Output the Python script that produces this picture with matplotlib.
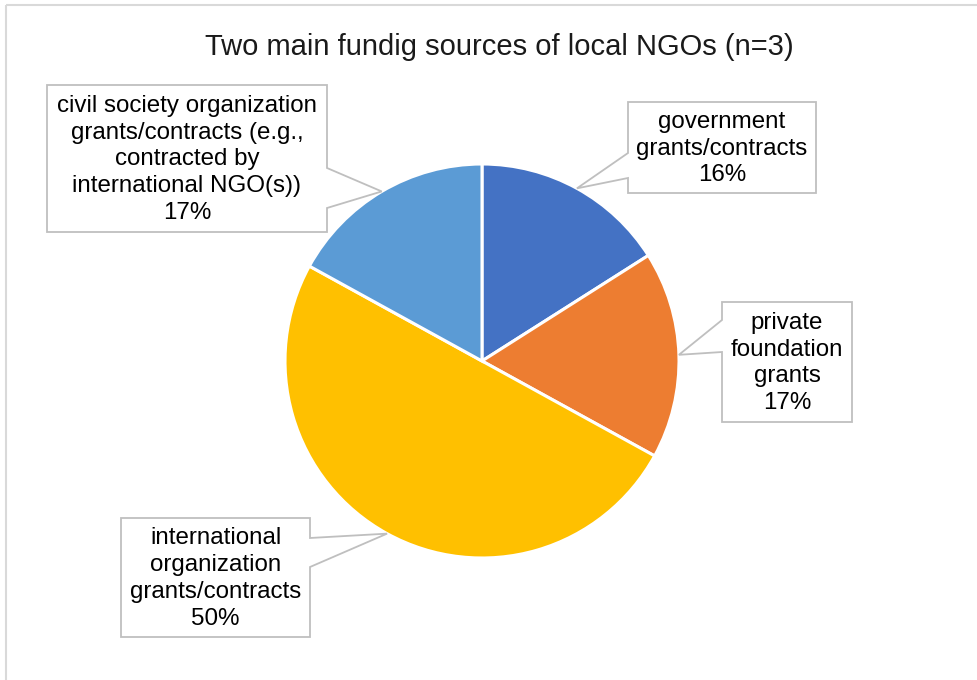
import numpy as np
import matplotlib.pyplot as plt
from matplotlib.patches import Polygon, Rectangle

plt.rcParams['font.family'] = ['Liberation Sans', 'DejaVu Sans']

# funding sources, clockwise from 12 o'clock
sources = ["government\ngrants/contracts",
           "private\nfoundation\ngrants",
           "international\norganization\ngrants/contracts",
           "civil society organization\ngrants/contracts (e.g.,\ncontracted by\ninternational NGO(s))"]
shares = [16, 17, 50, 17]
colors = ['#4472C4', '#ED7D31', '#FFC000', '#5B9BD5']

W, H = 978, 680

# callout boxes in pixel coords: x0, y0, x1, y1, side of pointer, pointer base y's
boxes = [
    (628, 102, 816, 193, 'left', 153, 178),
    (722, 302, 852, 422, 'left', 320, 352),
    (121, 518, 310, 637, 'right', 538, 567),
    (47, 85, 327, 232, 'right', 168, 208),
]


def py(y):
    return H - y


fig = plt.figure(figsize=(W / 100, H / 100), dpi=100)
ax = fig.add_axes([0, 0, 1, 1])

cx, cy, r = 482, py(361), 197
wedges, _ = ax.pie(shares, colors=colors, startangle=90, counterclock=False,
                   center=(cx, cy), radius=r,
                   wedgeprops=dict(edgecolor='white', linewidth=2.2))
ax.set_xlim(0, W)
ax.set_ylim(0, H)
ax.set_aspect('equal')
ax.axis('off')

for w, (x0, y0, x1, y1, side, ya, yb), txt, val in zip(wedges, boxes, sources, shares):
    mid = np.deg2rad((w.theta1 + w.theta2) / 2)
    tip = (cx + r * np.cos(mid), cy + r * np.sin(mid))
    if side == 'right':
        pts = [(x0, py(y0)), (x1, py(y0)), (x1, py(ya)), tip,
               (x1, py(yb)), (x1, py(y1)), (x0, py(y1))]
    else:
        pts = [(x0, py(y0)), (x1, py(y0)), (x1, py(y1)), (x0, py(y1)),
               (x0, py(yb)), tip, (x0, py(ya))]
    ax.add_patch(Polygon(pts, closed=True, facecolor='white',
                         edgecolor='#BFBFBF', linewidth=1.3, zorder=3))
    ax.text((x0 + x1) / 2, py((y0 + y1) / 2 + 1), f"{txt}\n{val}%",
            ha='center', va='center', fontsize=17.4, linespacing=1.29,
            color='black', zorder=4)

ax.text(499, py(47), "Two main fundig sources of local NGOs (n=3)",
        ha='center', va='center', fontsize=21, color='#1a1a1a')

# chart area border
ax.add_patch(Rectangle((6, py(5)), W + 20, -(H + 20), fill=False,
                       edgecolor='#D9D9D9', linewidth=1.5, clip_on=False))

fig.savefig("out.png", dpi=100)
